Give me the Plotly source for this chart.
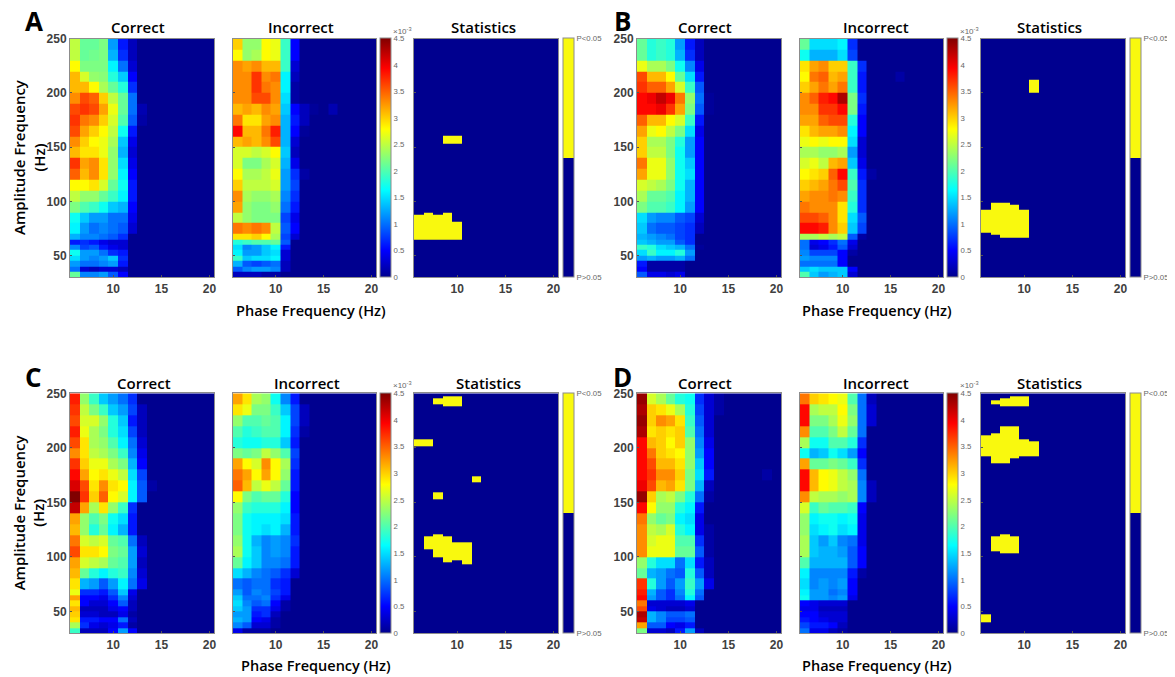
import plotly.graph_objects as go

PHASE_EDGES = [5.5 + i for i in range(16)]   # columns centred on 6..20 Hz
AMP_EDGES = [30, 35, 40, 45, 50, 55, 60, 65, 70] + list(range(80, 251, 10))
VMAX = 4.5

# rows: top (240-250 Hz) to bottom (30-35 Hz); values x1e-3, columns 6,7,8,... Hz
A_CORRECT = [
[2.5,2.1,2.1,2.2,1.2,.6,.2],[2.5,2.1,2.15,2.2,1.3,.7,.2],[2.8,2.2,2.2,2.2,1.6,1.0,.3],[3.1,2.6,2.3,2.25,1.8,1.4,.5],
[3.1,3.1,2.8,2.4,2.1,1.8,.7],[3.3,3.6,3.5,3.0,2.5,2.1,1.0],[3.6,3.7,3.6,3.2,2.7,2.1,1.0,.15],[3.7,3.4,3.3,3.0,2.6,2.0,.9,.1],
[3.6,3.2,3.0,2.8,2.5,1.7,.6],[3.3,3.0,2.8,2.7,2.4,1.4,.4],[3.1,2.9,2.9,2.7,2.3,1.3,.3],[3.7,3.2,3.3,2.9,2.3,1.5,.4],
[3.5,3.1,3.3,2.9,2.3,1.6,.5],[2.8,2.8,2.9,2.6,2.1,1.7,.6],[2.5,2.3,2.3,2.1,1.9,1.6,.6],[2.2,2.0,1.9,1.7,1.4,1.3,.5],
[1.7,1.4,1.2,1.2,1.0,1.0,.4],[1.6,1.2,1.0,1.1,1.0,.9,.3],[1.3,1.1,1.1,1.0,.9,.7],[.6,.7,.6,.4,.3,.3],
[1.1,.8,.9,.6,.4,.3],[1.7,1.2,1.2,1.0,.7,.6],[1.5,1.2,1.1,1.2,1.4,.7],[1.2,1.0,1.0,1.1,1.2,.6],
[1.0,.3,.2,.3,.3,.2],[2.1,1.1,1.1,1.2,.9,.5]]
A_INCORRECT = [
[3.0,2.3,2.3,2.8,2.7,1.9,.5],[2.8,2.3,2.4,2.8,2.7,1.9,.5],[3.3,3.2,3.3,3.1,3.1,1.9,.3],[3.3,3.3,3.7,3.3,3.4,1.6,.2],
[3.3,3.3,3.7,3.4,3.3,1.6,.1],[3.3,3.3,3.6,3.6,3.3,1.5,.1],[3.1,3.2,3.1,3.3,3.2,1.4,.5,.2],[3.4,2.9,2.9,3.2,3.3,1.3,.6,.2],
[3.9,3.1,3.1,3.4,3.8,1.3,.5,.05],[3.1,3.2,3.1,3.3,3.6,1.3,.3],[2.6,2.6,2.5,2.6,2.8,1.4,.2],[2.6,2.2,2.2,2.4,2.6,1.3,.4],
[2.8,2.4,2.4,2.5,2.7,1.2,.7,.1],[3.0,2.5,2.5,2.5,2.6,1.2,.8],[3.3,2.4,2.3,2.3,2.4,1.1,.7],[3.2,2.3,2.2,2.2,2.3,1.0,.6],
[2.5,2.3,2.2,2.2,2.2,.8,.4],[3.4,3.3,3.4,3.3,2.5,.9,.5],[2.9,2.9,3.0,2.8,2.4,.8,.3],[1.8,1.9,2.0,2.0,2.1,.9],
[1.5,1.1,1.2,1.4,1.6,.6],[1.6,1.2,1.2,1.4,1.5,.3],[1.9,1.4,1.5,1.5,1.6,.3],[1.3,.9,.8,.9,1.0,.2],
[.9,1.1,1.2,1.2,1.1,.2],[.2,.2,.2,.1,.1]]
B_CORRECT = [
[2.1,1.8,1.9,1.8,1.2,.6,.2],[2.1,1.8,1.9,1.8,1.3,.7,.2],[2.7,2.4,2.4,2.2,1.7,1.1,.4],[3.6,3.1,3.1,2.8,2.1,1.5,.6],
[3.7,3.5,3.5,3.2,2.6,1.9,.9],[3.9,4.0,4.2,4.0,3.4,2.3,1.0,.05],[3.9,3.9,4.0,3.7,3.2,2.2,.9,.05],[3.5,3.1,3.1,2.8,2.6,1.9,.6],
[3.2,2.7,2.8,2.5,2.2,1.5,.4],[3.0,2.4,2.4,2.2,1.8,1.2,.5],[3.0,2.5,2.5,2.2,1.7,1.2,.5],[3.4,2.7,2.7,2.3,1.7,1.4,.5],
[3.2,2.7,2.7,2.3,1.7,1.5,.5],[2.6,2.5,2.4,2.2,1.7,1.3,.5],[2.4,2.1,2.1,2.0,1.6,1.3,.5],[2.2,2.0,2.0,1.9,1.6,1.2,.5],
[1.5,1.2,1.1,1.1,.9,.8,.3],[1.4,1.0,.9,.9,.8,.7,.2],[1.3,1.2,1.1,1.0,.8,.7],[1.4,1.3,1.2,1.2,.9,.7],
[1.9,1.8,1.5,1.4,1.3,1.0,.05],[1.5,1.9,1.6,1.6,1.8,1.2],[1.2,1.3,1.2,1.2,1.3,1.0],[.6,.1,.1,.1,.1],
[.5,.1,.1,.1,.1],[.9,.4,.4,.3,.4]]
B_INCORRECT = [
[2.1,1.5,1.5,1.5,1.6,.7],[1.7,1.3,1.3,1.3,1.5,.8],[2.9,3.2,3.3,3.0,3.0,1.9,.7],[2.8,3.4,3.5,3.1,3.2,1.9,.6],
[3.0,3.2,3.4,3.2,3.4,1.9,.6],[3.3,3.5,3.8,3.9,4.3,2.2,.7],[3.3,3.3,3.7,3.7,3.9,2.2,.6],[3.2,3.2,3.5,3.6,3.6,1.8,.5],
[2.9,3.1,3.2,3.2,3.3,1.6,.5],[2.7,2.8,2.7,2.8,2.8,1.5,.3],[2.4,2.4,2.3,2.3,2.4,1.2,.3],[2.6,2.7,2.5,3.1,3.2,1.4,.4],
[2.8,2.9,3.0,3.5,3.9,1.9,.6,.1],[3.0,3.1,3.2,3.4,3.6,2.0,.7],[3.2,3.3,3.3,3.4,3.3,1.9,.7],[3.4,3.3,3.3,3.3,2.9,1.8,.7],
[3.6,3.6,3.5,3.3,2.9,1.5,.9],[3.9,3.9,3.8,3.3,3.0,1.4,.8],[2.4,2.4,2.5,2.4,2.5,.9,.1],[1.0,.4,.5,.7,1.0,.4],
[1.0,.3,.4,.6,.9,.3],[1.1,.8,.8,.8,.5,.1],[1.2,1.1,1.1,1.1,.5],[1.0,1.0,1.0,1.0,.5],
[1.4,1.5,1.4,1.4,1.4,.5],[2.0,1.4,1.2,1.3,1.4,.3]]
C_CORRECT = [
[3.8,2.3,1.9,1.4,1.2,1.0,.7],[3.7,2.5,2.2,1.9,1.4,1.2,.8,.2],[3.6,2.6,2.6,2.3,1.8,1.4,.6,.2],[3.8,2.7,2.4,2.2,1.8,1.5,.8,.2],
[3.6,2.9,2.4,2.3,2.0,1.6,1.0,.3],[3.3,2.9,2.5,2.4,2.2,1.9,1.1,.4],[3.7,3.0,2.7,2.7,2.4,2.2,1.3,.5],[3.9,3.2,2.8,2.9,2.7,2.5,1.5,.8],
[4.1,3.6,2.9,3.3,2.9,2.8,1.6,.9],[4.5,3.7,3.0,3.5,2.8,2.6,1.6,.9],[4.2,3.2,2.4,2.9,2.3,1.9,.7],[3.2,2.3,2.0,2.2,1.7,1.5,.6],
[3.1,2.3,1.8,2.1,1.6,1.3,.6],[3.4,2.6,2.5,2.6,2.1,2.0,1.0,.2],[3.6,2.9,2.9,2.8,2.2,2.1,1.2,.3],[3.2,2.6,2.5,2.4,2.1,2.0,1.2,.2],
[3.1,2.1,1.8,1.6,1.8,1.9,1.1,.3],[2.9,1.3,1.2,.9,1.2,1.6,1.0,.4],[2.7,.7,.7,.6,.9,1.4,.4],[3.2,.5,.5,.4,.7,1.1,.3],
[2.9,.5,.3,.3,.5,.9,.2],[3.1,.2,.2,.2,.4,.5,.2],[3.0,.3,.3,.2,.2,.4,.1],[2.9,.6,.6,.5,.5,1.0,.2],
[2.4,.7,.4,.3,.4,.6,.1],[1.9,.2,.2,.2,.5,1.2,.5]]
C_INCORRECT = [
[3.2,2.9,2.4,2.3,1.7,1.1,.6],[2.9,2.7,2.2,2.2,1.9,1.4,.8,.2],[2.3,2.0,2.0,2.1,2.0,1.6,.8,.2],[2.0,1.8,1.9,2.0,2.0,1.6,.7,.1],
[1.8,1.7,1.7,1.8,1.8,1.4,.6],[2.2,2.1,2.2,2.5,2.3,2.0,.8],[3.2,2.8,2.6,3.3,2.8,2.4,.7],[3.4,3.2,2.8,3.2,2.8,2.3,.6],
[3.5,3.1,2.5,2.7,2.5,2.1,.6],[2.8,2.2,2.0,2.1,2.1,1.8,.5],[2.3,1.9,1.8,1.8,1.8,1.6,.5],[2.2,1.7,1.6,1.6,1.6,1.5,.6],
[2.2,1.7,1.6,1.5,1.6,1.3,.6],[2.3,1.7,1.3,1.1,1.2,1.1,.7],[2.4,1.7,1.4,1.1,1.2,1.1,.6],[2.1,1.6,1.4,1.1,1.1,1.0,.6],
[1.5,1.3,1.1,1.0,.9,.7,.3],[1.0,.9,1.0,1.0,.7,.6],[1.2,.9,1.1,1.0,.8,.6],[1.4,1.0,1.0,1.1,.7,.4],
[1.5,1.1,.9,1.0,.5,.1],[1.4,1.2,.7,.7,.4,.1],[1.2,1.2,.6,.7,.2],[1.3,1.2,.5,.4,.1],
[1.1,.9,.3,.3,.1],[.4,.1,.1,.1]]
D_CORRECT = [
[4.4,2.6,2.4,2.1,1.8,1.7,.7,.3,.1],[4.3,3.0,2.9,2.7,2.4,1.8,.8,.3,.1],[4.4,3.0,3.3,3.2,2.9,1.9,.9,.3],[4.3,2.9,3.0,2.9,3.0,2.0,1.0,.3],
[3.9,3.1,3.0,2.8,3.0,2.3,1.1,.4],[3.9,3.4,3.0,2.9,2.8,2.3,1.2,.5],[3.9,3.6,3.1,3.1,2.9,2.3,1.4,.5],[3.9,3.7,3.3,3.3,3.0,2.2,1.5,.6],
[4.0,3.6,3.1,3.2,2.9,2.2,1.3,.2],[4.4,3.0,2.4,2.5,2.2,1.8,1.0,.1],[3.9,2.8,2.3,2.3,1.8,1.6,.6],[3.4,2.3,2.1,2.2,1.6,1.5,.4],
[3.3,2.5,2.4,2.6,1.8,1.6,.4,.1],[3.3,2.6,2.7,2.7,2.0,2.0,.7,.1],[3.3,2.7,2.7,2.7,2.1,2.1,.9,.1],[2.3,1.8,1.5,1.5,1.0,1.5,.6,.2],
[2.1,1.3,1.2,1.0,.9,1.8,.9,.2],[3.7,1.8,1.2,.9,1.2,1.9,1.2,.4],[3.8,1.3,.9,.7,1.1,1.8,1.0],[3.9,1.2,.9,.7,1.0,1.6,.9],
[3.4,.3,.3,.3,.3,.4],[3.6,.4,.3,.2,.2,.3],[4.3,1.3,1.1,.9,.9,1.0],[4.2,1.3,1.1,.8,.8,.9],
[3.2,.9,.9,.5,.4,.6],[2.2,.3,.3,.2,.6,1.2,.2]]
D_INCORRECT = [
[3.4,3.0,2.9,2.8,2.7,2.0,1.0,.2],[3.9,2.4,2.5,2.5,2.8,2.2,1.0,.3],[3.9,2.2,2.2,2.4,2.7,2.3,1.0,.3],[3.3,2.0,2.0,2.2,2.5,2.1,1.0],
[2.4,1.7,1.7,2.0,2.0,1.8,.7],[1.7,1.3,1.4,1.7,1.5,1.2,.5],[3.2,2.1,2.1,2.2,2.1,1.9,.7],[3.9,3.1,2.8,2.7,2.5,2.3,1.0],
[3.9,3.1,2.8,2.7,2.5,2.4,1.1,.2],[3.3,2.5,2.4,2.4,2.3,2.4,1.1,.2],[2.6,1.9,2.1,2.0,2.0,1.9,.5],[2.3,1.6,1.7,1.7,1.6,1.7,.4],
[2.3,1.5,1.6,1.7,1.5,1.6,.4],[2.4,1.4,1.2,1.4,1.1,1.0,.4],[2.4,1.4,1.3,1.3,1.2,.9,.5],[2.0,1.3,1.3,1.3,1.3,.9,.5],
[1.6,1.1,1.1,1.1,1.1,.6,.1],[1.5,1.1,1.2,1.1,1.2,.5],[1.6,1.2,1.2,1.0,1.1,.5],[1.7,1.2,1.2,1.1,1.2,.4],
[.5,.4,.3,.3,.3],[.4,.4,.2,.2,.2],[.5,.5,.3,.3,.3],[.6,.5,.4,.3,.3],
[.8,.6,.6,.5,.2],[1.0,.4,.4,.2,.1]]

# isolated faint cells further right: (phase Hz, amplitude Hz, value)
A_INCORRECT_FAINT = [(16, 185, .15), (14, 185, .05)]
B_INCORRECT_FAINT = [(16, 215, .1)]
C_CORRECT_FAINT = [(14, 165, .1)]
D_CORRECT_FAINT = [(19, 175, .1)]

# significant regions: (phase Hz, low amplitude Hz, high amplitude Hz)
A_STATS = [(6,65,87.4),(7,64.4,89.6),(8,64.4,87.4),(9,64.4,89.6),(10,64.4,81.3),(9,152.9,160.9),(10,152.9,160.9)]
B_STATS = [(6,71,92),(7,69,98.8),(8,66.8,98.8),(9,66.8,96.7),(10,66.8,92.7),(11,200.5,212.2)]
C_STATS = [(8,240.2,245.4),(9,237.8,247.6),(10,237.8,247.6),(6,201.7,207.8),(7,201.7,207.8),(12,168.4,174.2),(8,152.8,158.9),
           (7,107,119.2),(8,99.3,120.7),(9,95,119.2),(10,97,113),(11,93,113)]
D_STATS = [(7,240,243.8),(8,237.8,245.4),(9,237.8,247.6),(10,237.8,247.6),(6,192.2,211.5),(7,185.8,213.3),(8,185.8,219.7),
           (9,190.1,219.7),(10,192.2,207.5),(11,192.2,206),(7,105.5,119.2),(8,103.3,120.7),(9,103.3,119.2),(6,39.8,47.7)]

X_TICKS = [10, 15, 20]
Y_TICKS = [50, 100, 150, 200, 250]
CBAR_TICKS = [0, .5, 1, 1.5, 2, 2.5, 3, 3.5, 4, 4.5]
CBAR_TEXT = ["0", "0.5", "1", "1.5", "2", "2.5", "3", "3.5", "4", "4.5"]

# the page puts the figure 8 px in from the top-left corner of the window
PAGE_OFFSET = 8
W, H = 1175 - PAGE_OFFSET, 677 - PAGE_OFFSET
JET = [[0, "rgb(0,0,143)"], [.111, "rgb(0,0,255)"], [.365, "rgb(0,255,255)"],
       [.619, "rgb(255,255,0)"], [.873, "rgb(255,0,0)"], [1, "rgb(128,0,0)"]]
NAVY, YELLOW = "#00008F", "#F9F90E"
BINARY = [[0, NAVY], [.5, NAVY], [.5, YELLOW], [1, YELLOW]]
GREY = "#8c8c8c"
TITLE_FONT = "Open Sans"


def fx(px):
    return (px - PAGE_OFFSET) / W


def fy(px):
    return 1 - (px - PAGE_OFFSET) / H


def full_grid(rows, faint=()):
    grid = []
    for row in reversed(rows):
        grid.append(list(row) + [0] * (15 - len(row)))
    for phase, amp, val in faint:
        for i in range(len(AMP_EDGES) - 1):
            if AMP_EDGES[i] <= amp < AMP_EDGES[i + 1]:
                grid[i][phase - 6] = val
    return grid


def stats_grid(regions):
    edges = sorted({30, 250} | {r[1] for r in regions} | {r[2] for r in regions})
    z = []
    for lo, hi in zip(edges[:-1], edges[1:]):
        mid = (lo + hi) / 2
        z.append([1 if any(p == col and a <= mid < b for p, a, b in regions) else 0 for col in range(6, 21)])
    return edges, z


fig = go.Figure()
layout = {}
n = 0


def add_axes(x0, x1, y0, y1, show_y):
    global n
    n += 1
    s = "" if n == 1 else str(n)
    common = dict(showgrid=False, zeroline=False, showline=True, mirror=True, linecolor=GREY, linewidth=1,
                  ticks="inside", ticklen=2, tickcolor="#555555",
                  tickfont=dict(family="Liberation Sans", size=12, color="#404040", weight="bold"))
    layout["xaxis" + s] = dict(common, domain=[fx(x0), fx(x1)], range=[5.5, 20.5], tickvals=X_TICKS,
                               anchor="y" + s)
    layout["yaxis" + s] = dict(common, domain=[fy(y1), fy(y0)], range=[30, 250], tickvals=Y_TICKS,
                               anchor="x" + s, showticklabels=show_y)
    return "x" + s, "y" + s


def note(text, x, y, size, color="black", family=TITLE_FONT, angle=0, weight=600):
    fig.add_annotation(text=text, x=fx(x), y=fy(y), xref="paper", yref="paper", showarrow=False,
                       textangle=angle, xanchor="center", yanchor="middle",
                       font=dict(family=family, size=size, color=color, weight=weight))


def cbar(x, y0, y1, tickvals, ticktext):
    return dict(x=fx(x), xanchor="left", xref="paper", y=fy(y1), yanchor="bottom", yref="paper",
                len=(y1 - y0) / H, lenmode="fraction", thickness=11, thicknessmode="pixels", xpad=0, ypad=0,
                outlinecolor=GREY, outlinewidth=1, borderwidth=0, ticks="", tickvals=tickvals, ticktext=ticktext,
                tickfont=dict(family="Liberation Sans", size=7.8, color="#666666"))


PANELS = [
    dict(letter="A", lx=34, ly=21, ox=0, y0=38.7, y1=277.3, corr=A_CORRECT, inc=A_INCORRECT, stats=A_STATS,
         corr_f=(), inc_f=A_INCORRECT_FAINT, tx=[138, 300.7, 483], ty=27, px=311, py=310, yl=True),
    dict(letter="B", lx=622, ly=21, ox=567, y0=38.7, y1=277.3, corr=B_CORRECT, inc=B_INCORRECT, stats=B_STATS,
         corr_f=(), inc_f=B_INCORRECT_FAINT, tx=[705, 876, 1049], ty=27, px=877, py=310, yl=False),
    dict(letter="C", lx=33, ly=377, ox=0, y0=393.3, y1=633.3, corr=C_CORRECT, inc=C_INCORRECT, stats=C_STATS,
         corr_f=C_CORRECT_FAINT, inc_f=(), tx=[144, 306.7, 488], ty=383, px=316, py=665, yl=True),
    dict(letter="D", lx=622, ly=377, ox=567, y0=393.3, y1=633.3, corr=D_CORRECT, inc=D_INCORRECT, stats=D_STATS,
         corr_f=D_CORRECT_FAINT, inc_f=(), tx=[705, 876, 1049], ty=383, px=877, py=665, yl=False),
]

for p in PANELS:
    ox, y0, y1 = p["ox"], p["y0"], p["y1"]
    xa, ya = add_axes(70 + ox, 214.3 + ox, y0, y1, True)
    fig.add_trace(go.Heatmap(z=full_grid(p["corr"], p["corr_f"]), x=PHASE_EDGES, y=AMP_EDGES, xaxis=xa, yaxis=ya,
                             colorscale=JET, zmin=0, zmax=VMAX, showscale=False))
    xa, ya = add_axes(232.5 + ox, 376.3 + ox, y0, y1, False)
    fig.add_trace(go.Heatmap(z=full_grid(p["inc"], p["inc_f"]), x=PHASE_EDGES, y=AMP_EDGES, xaxis=xa, yaxis=ya,
                             colorscale=JET, zmin=0, zmax=VMAX,
                             colorbar=cbar(380.3 + ox, y0, y1, CBAR_TICKS, CBAR_TEXT)))
    xa, ya = add_axes(414 + ox, 558.3 + ox, y0, y1, False)
    edges, z = stats_grid(p["stats"])
    fig.add_trace(go.Heatmap(z=z, x=PHASE_EDGES, y=edges, xaxis=xa, yaxis=ya, colorscale=BINARY, zmin=0, zmax=1,
                             colorbar=cbar(563.3 + ox, y0, y1, [0, 1], ["P&gt;0.05", "P&lt;0.05"])))
    note(p["letter"], p["lx"], p["ly"], 26, weight=700)
    for label, tx in zip(["Correct", "Incorrect", "Statistics"], p["tx"]):
        note(label, tx, p["ty"], 15)
    note("Phase Frequency (Hz)", p["px"], p["py"], 14.5)
    note("×10<sup>-3</sup>", 402 + ox, y0 - 8, 8, color="#666666", family="Liberation Sans", weight=400)
    if p["yl"]:
        note("Amplitude Frequency<br>(Hz)", 29, (y0 + y1) / 2 - 1, 15, angle=-90)

fig.update_layout(width=W, height=H, autosize=False, margin=dict(l=0, r=0, t=0, b=0, autoexpand=False),
                  paper_bgcolor="white", plot_bgcolor="white", showlegend=False, **layout)
fig.write_html("out.html")
